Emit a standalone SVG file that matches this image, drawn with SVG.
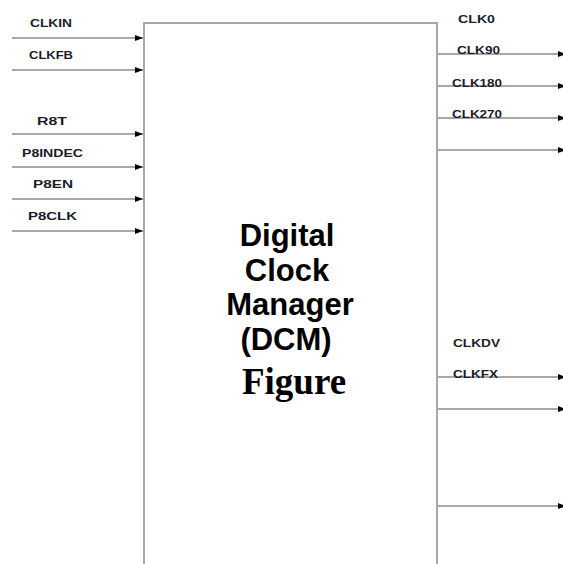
<svg xmlns="http://www.w3.org/2000/svg" width="563" height="564" viewBox="0 0 563 564">
<style>
.lbl{font-family:"Liberation Sans",Arial,sans-serif;font-weight:bold;font-size:11.5px;fill:#1b1b2a}
.big{font-family:"Liberation Sans",Arial,sans-serif;font-weight:bold;font-size:31px;fill:#000;text-anchor:middle}
.fig{font-family:"Liberation Serif","Times New Roman",serif;font-weight:bold;font-size:37px;fill:#000;text-anchor:middle}
.box{fill:none;stroke:#a8a8a8;stroke-width:2}
.wire{stroke:#8a8a8a;stroke-width:1.6;fill:none;marker-end:url(#ah)}
</style>
<defs>
<marker id="ah" markerWidth="8" markerHeight="6" refX="8" refY="3" orient="auto" markerUnits="userSpaceOnUse">
<path d="M0,0 L8,3 L0,6 Z" fill="#000"/>
</marker>
</defs>
<rect width="563" height="564" fill="#fff"/>
<g id="connectors">
<line class="wire" x1="12" y1="38" x2="143" y2="38"/>
<line class="wire" x1="12" y1="70" x2="143" y2="70"/>
<line class="wire" x1="12" y1="134" x2="143" y2="134"/>
<line class="wire" x1="12" y1="167" x2="143" y2="167"/>
<line class="wire" x1="12" y1="199" x2="143" y2="199"/>
<line class="wire" x1="12" y1="231" x2="143" y2="231"/>
<line class="wire" x1="438" y1="54" x2="566" y2="54"/>
<line class="wire" x1="438" y1="86" x2="566" y2="86"/>
<line class="wire" x1="438" y1="118" x2="566" y2="118"/>
<line class="wire" x1="438" y1="150" x2="566" y2="150"/>
<line class="wire" x1="438" y1="377" x2="566" y2="377"/>
<line class="wire" x1="438" y1="409" x2="566" y2="409"/>
<line class="wire" x1="438" y1="506" x2="566" y2="506"/>
</g>
<g id="dcm">
<path class="box" d="M144,566 V23 H437 V566"/>
<text class="big" x="287" y="246">Digital</text>
<text class="big" x="287" y="281">Clock</text>
<text class="big" x="290" y="315">Manager</text>
<text class="big" x="286" y="350">(DCM)</text>
<text class="fig" x="294" y="394">Figure</text>
</g>
<g id="inputs">
<text class="lbl" x="30" y="27" textLength="42" lengthAdjust="spacingAndGlyphs">CLKIN</text>
<text class="lbl" x="29" y="59" textLength="44" lengthAdjust="spacingAndGlyphs">CLKFB</text>
<text class="lbl" x="37" y="125" textLength="30" lengthAdjust="spacingAndGlyphs">R8T</text>
<text class="lbl" x="22" y="157" textLength="61" lengthAdjust="spacingAndGlyphs">P8INDEC</text>
<text class="lbl" x="33" y="188" textLength="40" lengthAdjust="spacingAndGlyphs">P8EN</text>
<text class="lbl" x="28" y="220" textLength="49" lengthAdjust="spacingAndGlyphs">P8CLK</text>
</g>
<g id="outputs">
<text class="lbl" x="458" y="23" textLength="37" lengthAdjust="spacingAndGlyphs">CLK0</text>
<text class="lbl" x="457" y="54" textLength="43" lengthAdjust="spacingAndGlyphs">CLK90</text>
<text class="lbl" x="452" y="87" textLength="50" lengthAdjust="spacingAndGlyphs">CLK180</text>
<text class="lbl" x="452" y="118" textLength="50" lengthAdjust="spacingAndGlyphs">CLK270</text>
<text class="lbl" x="453" y="347" textLength="47" lengthAdjust="spacingAndGlyphs">CLKDV</text>
<text class="lbl" x="453" y="378" textLength="45" lengthAdjust="spacingAndGlyphs">CLKFX</text>
</g>
</svg>
